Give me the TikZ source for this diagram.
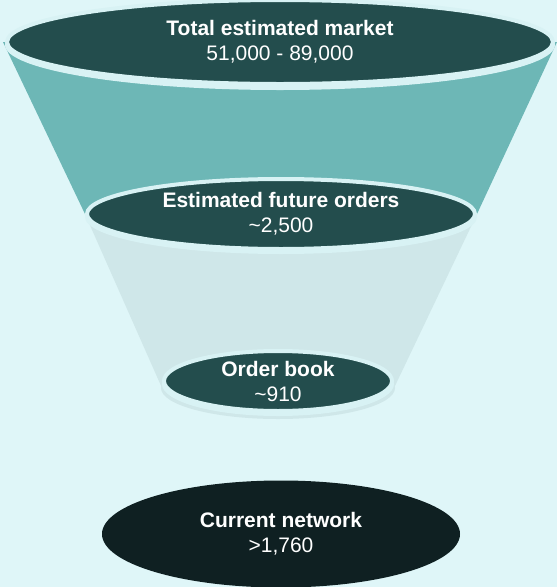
\documentclass[tikz,border=0pt]{standalone}
\usepackage{fontspec}
\setmainfont{Liberation Sans}
\usepackage{tikz}
\usetikzlibrary{shapes.geometric,backgrounds}
\definecolor{bgc}{HTML}{DFF6F8}
\definecolor{tealc}{HTML}{6DB7B6}
\definecolor{palec}{HTML}{CFE7E9}
\definecolor{diskc}{HTML}{234D4D}
\definecolor{rimc}{HTML}{D8F2F4}
\definecolor{netc}{HTML}{0F2022}
\tikzset{
    %Define style for funnel disks
    disk/.style={
           ellipse,
           fill=diskc,
           draw=rimc, line width=4pt,
           inner sep=0pt,
           text=white,
           align=center,
           font=\fontsize{21}{25}\selectfont},
    %Define style for the last disk
    base/.style={
           disk,
           fill=netc,
           draw=none},
    % Define cone styles
    upper/.style={fill=tealc},
    lower/.style={fill=palec}
}
\begin{document}
\begin{tikzpicture}[x=1pt,y=-1pt]
\useasboundingbox (0,0) rectangle (557,587);
\node[disk, minimum width=546, minimum height=84](1) at (280,42)
  {\textbf{Total estimated market}\\51,000 - 89,000};
\node[disk, minimum width=388, minimum height=70](2) at (281,214)
  {\textbf{Estimated future orders}\\\textasciitilde 2,500};
\node[disk, minimum width=228, minimum height=60](3) at (278,381)
  {\textbf{Order book}\\\textasciitilde 910};
\node[base, minimum width=358, minimum height=107](4) at (281,534)
  {\textbf{Current network}\\>1,760};
\begin{pgfonlayer}{background}
 \fill[bgc] (0,0) rectangle (557,587);
 \fill[upper] ([xshift=-2pt]1.west) -- ([xshift=2pt]1.east) -- (2.east) -- (2.west) -- cycle;
 \fill[lower] (2.west) -- (2.east) -- ([yshift=-7pt]3.east) -- ([yshift=-7pt]3.west) -- cycle;
 \fill[lower] ([yshift=-7pt]3.center) ellipse [x radius=117, y radius=31];
 % rims under the disks
 \foreach \n/\rx/\ry in {1/275/45,2/196/37,3/116/32}
   \fill[rimc] ([yshift=-3pt]\n.center) ellipse [x radius=\rx, y radius=\ry];
\end{pgfonlayer}
\end{tikzpicture}
\end{document}
